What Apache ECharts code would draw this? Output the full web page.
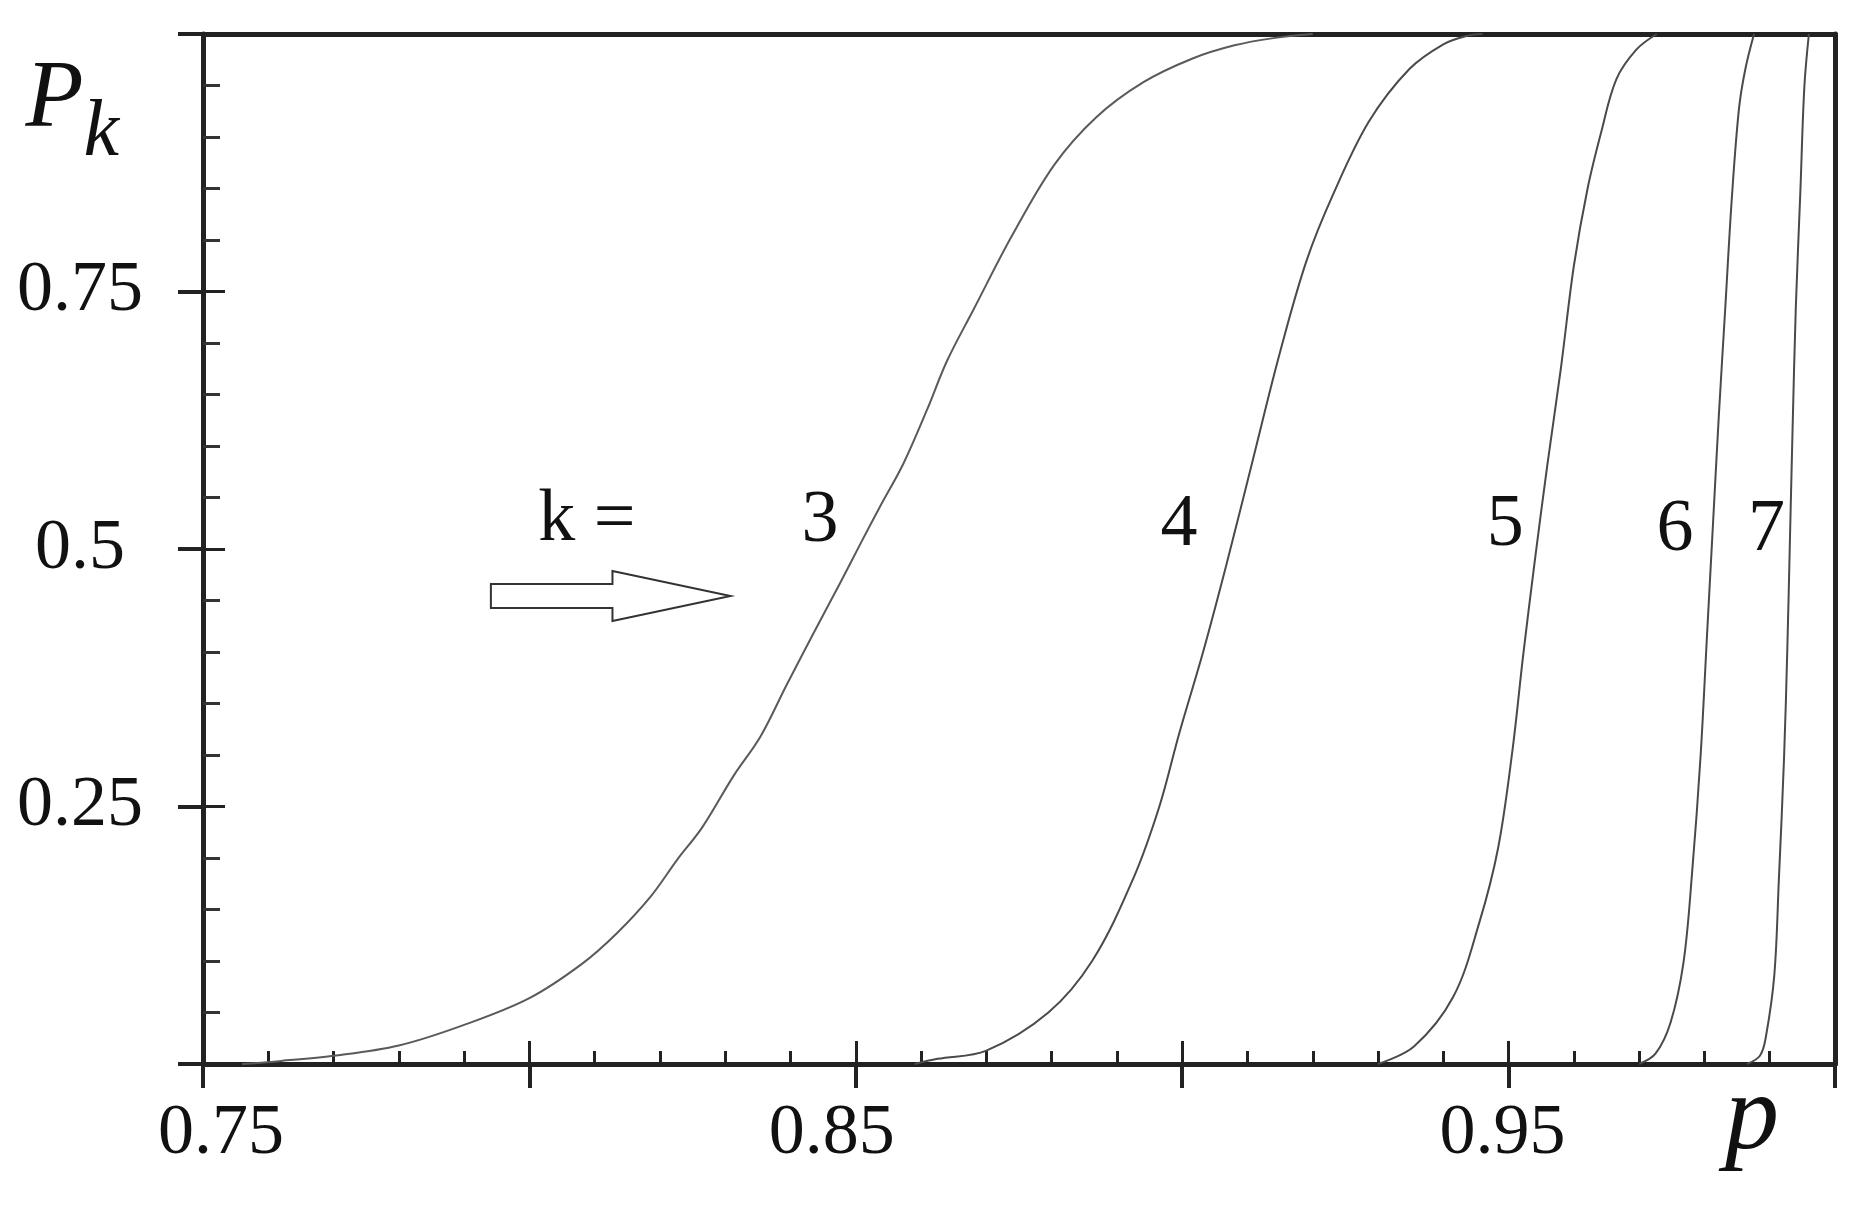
<!DOCTYPE html>
<html lang="en">
<head>
  <meta charset="UTF-8">
  <title>P_k(p)</title>
  <style>
    * {
      margin: 0;
      padding: 0;
    }
  </style>
  <script src="https://cdn.jsdelivr.net/npm/echarts@6/dist/echarts.min.js"></script>
</head>
<body>
  <div id="main" style="width: 1871px; height: 1231px;"></div>
  <script>
    const chart = echarts.init(document.getElementById('main'))

    // curves, [p, P_k]
    const k3 = [[0.756, 0], [0.762, 0.003], [0.770, 0.008], [0.780, 0.018], [0.790, 0.038], [0.800, 0.064],
      [0.808, 0.097], [0.8134, 0.127], [0.8185, 0.162], [0.8226, 0.198], [0.8265, 0.230], [0.8313, 0.280],
      [0.8354, 0.318], [0.8394, 0.368], [0.8435, 0.418], [0.8476, 0.467], [0.8507, 0.505], [0.8537, 0.541],
      [0.8573, 0.583], [0.8609, 0.635], [0.864, 0.683], [0.868, 0.732], [0.874, 0.805], [0.8804, 0.873],
      [0.8868, 0.919], [0.894, 0.953], [0.9015, 0.976], [0.908, 0.989], [0.914, 0.996], [0.920, 1.0]]
    const k4 = [[0.859, 0], [0.8625, 0.005], [0.870, 0.013], [0.8795, 0.050], [0.8862, 0.100], [0.8925, 0.180],
      [0.8965, 0.250], [0.8995, 0.320], [0.9032, 0.400], [0.9067, 0.483], [0.9108, 0.586], [0.9149, 0.689],
      [0.919, 0.779], [0.9231, 0.844], [0.9286, 0.915], [0.9348, 0.966], [0.940, 0.990], [0.9435, 0.998], [0.946, 1.0]]
    const k5 = [[0.930, 0], [0.9355, 0.017], [0.9415, 0.065], [0.9455, 0.137], [0.9484, 0.210], [0.9506, 0.305],
      [0.9522, 0.395], [0.9539, 0.483], [0.9559, 0.580], [0.958, 0.675], [0.960, 0.775], [0.9621, 0.850],
      [0.9642, 0.905], [0.9665, 0.956], [0.9696, 0.985], [0.9727, 1.0]]
    const k6 = [[0.970, 0], [0.9725, 0.010], [0.9748, 0.040], [0.9768, 0.099], [0.9781, 0.185], [0.9794, 0.298],
      [0.9804, 0.417], [0.9813, 0.523], [0.9822, 0.629], [0.9832, 0.735], [0.9842, 0.841], [0.9853, 0.928],
      [0.9863, 0.967], [0.9876, 1.0]]
    const k7 = [[0.9865, 0], [0.9885, 0.008], [0.9894, 0.026], [0.9907, 0.086], [0.9914, 0.179], [0.9922, 0.298],
      [0.9927, 0.404], [0.9931, 0.510], [0.9935, 0.616], [0.994, 0.735], [0.9947, 0.848], [0.9953, 0.948], [0.996, 1.0]]

    // labels next to the curves
    const curveNames = ['k =', '3', '4', '5', '6', '7']
    const curveLabelX = [0.8088, 0.8445, 0.8995, 0.9495, 0.9755, 0.9895]
    const curveLabelY = [0.528, 0.527, 0.523, 0.523, 0.518, 0.518]

    // hollow arrow pointing at k = 3: [fromP, fromY, toP, toY]
    const arrow = [0.7941, 0.4544, 0.8308, 0.4544]

    const yLabelled = [0.25, 0.5, 0.75]

    const serif = 'Liberation Serif'
    const ink = '#222'
    const curveColor = '#4a4a4a'

    const near = (v, list) => list.find(t => Math.abs(t - v) < 1e-6)

    const curve = (data, color) => ({
      type: 'line',
      data,
      showSymbol: false,
      smooth: 0.35,
      lineStyle: { color, width: 2 },
      z: 3
    })

    const option = {
      animation: false,
      backgroundColor: '#fff',
      grid: { left: 203, right: 36, top: 34, bottom: 167 },
      xAxis: [
        {
          type: 'value', position: 'bottom', min: 0.75, max: 1.0, interval: 0.05,
          axisLine: { onZero: false, lineStyle: { color: ink, width: 5 } },
          axisTick: { inside: true, length: 23, lineStyle: { color: ink, width: 3 } },
          minorTick: { show: true, splitNumber: 5, length: 13, lineStyle: { color: ink, width: 3 } },
          splitLine: { show: false },
          axisLabel: {
            margin: 34,
            formatter: v => {
              if (Math.abs(v - 0.75) < 1e-6) return '{r|0.75}'
              if (Math.abs(v - 0.85) < 1e-6) return '{l|0.85}'
              if (Math.abs(v - 0.95) < 1e-6) return '{m|0.95}'
              return ''
            },
            rich: {
              r: { fontFamily: serif, fontSize: 72, color: '#111', padding: [0, 0, 0, 36] },
              l: { fontFamily: serif, fontSize: 72, color: '#111', padding: [0, 48, 0, 0] },
              m: { fontFamily: serif, fontSize: 72, color: '#111', padding: [0, 12, 0, 0] }
            }
          },
          name: 'p',
          nameLocation: 'end',
          nameGap: -110,
          nameTextStyle: {
            fontFamily: serif, fontStyle: 'italic', fontSize: 108, color: '#111',
            align: 'left', verticalAlign: 'top', padding: [2, 0, 0, 0]
          }
        },
        {
          // major ticks crossing below the axis
          type: 'value', position: 'bottom', min: 0.75, max: 1.0, interval: 0.05,
          axisLine: { show: false, onZero: false },
          axisTick: { inside: false, length: 24, lineStyle: { color: ink, width: 4 } },
          axisLabel: { show: false },
          splitLine: { show: false }
        },
        {
          type: 'value', position: 'top', min: 0.75, max: 1.0,
          axisLine: { onZero: false, lineStyle: { color: ink, width: 5 } },
          axisTick: { show: false }, axisLabel: { show: false }, splitLine: { show: false }
        }
      ],
      yAxis: [
        {
          type: 'value', position: 'left', min: 0, max: 1, interval: 0.25,
          axisLine: { onZero: false, lineStyle: { color: ink, width: 5 } },
          axisTick: { inside: true, length: 22, lineStyle: { color: ink, width: 3 } },
          minorTick: { show: true, splitNumber: 5, length: 17, lineStyle: { color: '#333', width: 3 } },
          splitLine: { show: false },
          axisLabel: {
            margin: 123, align: 'center',
            fontFamily: serif, fontSize: 72, color: '#111',
            formatter: v => near(v, yLabelled) !== undefined ? String(v) : ''
          },
          name: '{p|P}{k|k}',
          nameLocation: 'end',
          nameGap: -140,
          nameTextStyle: {
            align: 'right', verticalAlign: 'bottom', padding: [0, 84, 0, 0],
            rich: {
              p: { fontFamily: serif, fontStyle: 'italic', fontSize: 95, color: '#111', verticalAlign: 'top' },
              k: { fontFamily: serif, fontStyle: 'italic', fontSize: 80, color: '#111', verticalAlign: 'bottom', lineHeight: 120 }
            }
          }
        },
        {
          type: 'value', position: 'left', min: 0, max: 1, interval: 0.25,
          axisLine: { show: false, onZero: false },
          axisTick: { inside: false, length: 25, lineStyle: { color: ink, width: 4 } },
          axisLabel: { show: false },
          splitLine: { show: false }
        },
        {
          type: 'value', position: 'right', min: 0, max: 1,
          axisLine: { onZero: false, lineStyle: { color: ink, width: 5 } },
          axisTick: { show: false }, axisLabel: { show: false }, splitLine: { show: false }
        }
      ],
      series: [
        curve(k3, '#5a5a5a'),
        curve(k4, curveColor),
        curve(k5, curveColor),
        curve(k6, curveColor),
        curve(k7, curveColor),
        {
          type: 'custom',
          data: curveLabelX.map((x, i) => [x, curveLabelY[i]]),
          renderItem: (params, api) => {
            const pt = api.coord([api.value(0), api.value(1)])
            return {
              type: 'text',
              x: pt[0],
              y: pt[1],
              style: {
                text: curveNames[params.dataIndex],
                fontFamily: serif, fontSize: 74, fill: '#111',
                align: 'center', verticalAlign: 'middle'
              }
            }
          },
          z: 4
        },
        {
          type: 'custom',
          data: [arrow],
          renderItem: (params, api) => {
            const a = api.coord([api.value(0), api.value(1)])
            const b = api.coord([api.value(2), api.value(3)])
            const head = 118, shaft = 12, wing = 25
            const n = b[0] - head
            return {
              type: 'polygon',
              shape: {
                points: [
                  [a[0], a[1] - shaft], [n, a[1] - shaft], [n, a[1] - wing], [b[0], b[1]],
                  [n, a[1] + wing], [n, a[1] + shaft], [a[0], a[1] + shaft]
                ]
              },
              style: { fill: '#fff', stroke: '#333', lineWidth: 2 }
            }
          },
          z: 4
        }
      ]
    }

    chart.setOption(option)
  </script>
</body>
</html>
